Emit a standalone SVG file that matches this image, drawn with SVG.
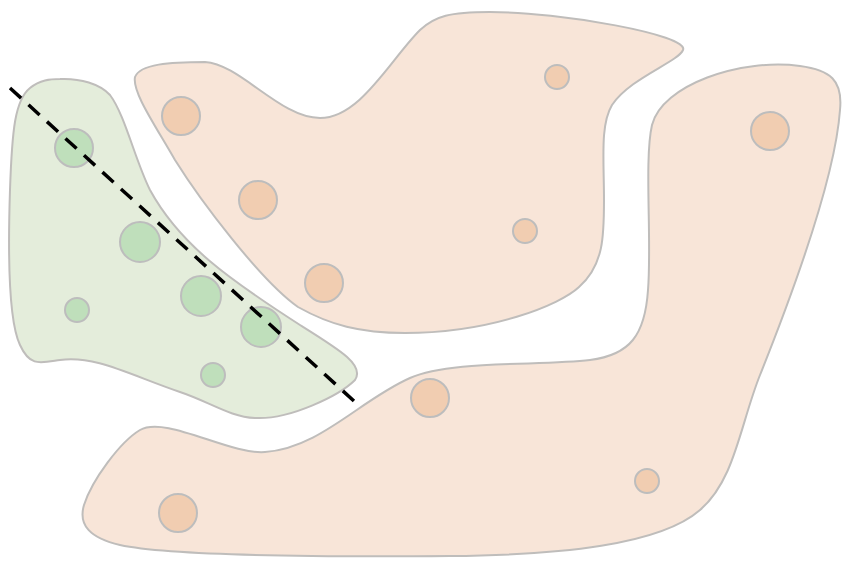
<svg xmlns="http://www.w3.org/2000/svg" width="848" height="568" viewBox="0 0 848 568">
<style>
.blob{stroke:#bfbdbb;stroke-width:2}
.g{fill:#e4eddb}
.p{fill:#f8e5d8}
.gc{fill:#bfdfbb;stroke:#bdbdbd;stroke-width:2}
.pc{fill:#f1cdb1;stroke:#bdbdbd;stroke-width:2}
.cut{fill:none;stroke:#000;stroke-width:3.5;stroke-dasharray:15 10}
</style>
<rect width="848" height="568" fill="#fff"/>
<g id="region-green">
<path class="blob g" d="M60,79 C80,78 100,84 110,95 C125,115 135,160 150,190 C180,245 230,280 300,325 C340,350 365,365 355,380 C340,395 290,420 255,418 C230,417 210,402 180,392 C130,375 95,355 60,360 C40,363 30,367 20,345 C8,320 8,250 10,190 C12,130 15,100 30,88 C40,80 50,79 60,79 Z"/>
<circle class="gc" cx="74" cy="148" r="19"/>
<circle class="gc" cx="140" cy="242" r="20"/>
<circle class="gc" cx="201" cy="296" r="20"/>
<circle class="gc" cx="261" cy="327" r="20"/>
<circle class="gc" cx="77" cy="310" r="12"/>
<circle class="gc" cx="213" cy="375" r="12"/>
</g>
<g id="region-top">
<path class="blob p" d="M135,77 C140,64 170,62 205,62 C240,64 280,118 320,118 C360,118 390,60 420,30 C435,16 450,12 490,12 C560,12 690,35 683,50 C678,62 630,78 612,105 C600,125 604,160 604,200 C604,235 604,265 579,287 C560,305 490,333 405,333 C360,333 330,325 298,307 C260,280 200,200 175,160 C155,125 132,92 135,77 Z"/>
<circle class="pc" cx="181" cy="116" r="19"/>
<circle class="pc" cx="258" cy="200" r="19"/>
<circle class="pc" cx="324" cy="283" r="19"/>
<circle class="pc" cx="557" cy="77" r="12"/>
<circle class="pc" cx="525" cy="231" r="12"/>
</g>
<g id="region-bottom">
<path class="blob p" d="M120,545 C90,538 78,525 84,505 C92,480 120,442 140,430 C165,415 230,455 265,452 C320,448 360,400 410,378 C450,360 540,366 590,360 C630,355 645,335 648,290 C652,240 644,160 652,125 C662,85 740,58 800,66 C830,70 843,80 840,110 C835,180 790,300 760,375 C740,425 735,480 700,510 C660,545 560,555 450,556 C320,557 170,556 120,545 Z"/>
<circle class="pc" cx="770" cy="131" r="19"/>
<circle class="pc" cx="430" cy="398" r="19"/>
<circle class="pc" cx="178" cy="513" r="19"/>
<circle class="pc" cx="647" cy="481" r="12"/>
</g>
<g id="connectors">
<line class="cut" x1="10" y1="88" x2="354" y2="401"/>
</g>
</svg>
